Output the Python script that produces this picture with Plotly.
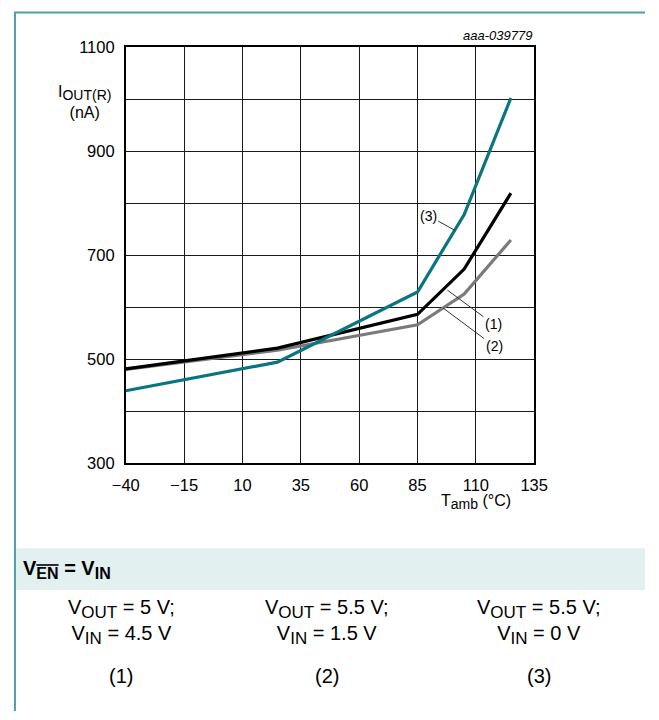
import plotly.graph_objects as go

# Ambient temperature (°C) at which the reverse output current was sampled
temp_c = [-40, 25, 85, 105, 125]

# Reverse output current I_OUT(R) in nA for each condition
iout_1 = [481, 521, 586, 673, 819]   # VOUT = 5 V; VIN = 4.5 V
iout_2 = [480, 517, 566, 625, 729]   # VOUT = 5.5 V; VIN = 1.5 V
iout_3 = [439, 494, 629, 778, 1002]  # VOUT = 5.5 V; VIN = 0 V

y_ticks = [300, 400, 500, 600, 700, 800, 900, 1000, 1100]
y_tick_text = ["300", "", "500", "", "700", "", "900", "", "1100"]
x_ticks = [-40, -15, 10, 35, 60, 85, 110, 135]

TEAL = "#087580"
GREY = "#7a7a7a"
FONT = "Liberation Sans, Arial, sans-serif"

fig = go.Figure()
for ys, col in [(iout_2, GREY), (iout_1, "#000000"), (iout_3, TEAL)]:
    fig.add_trace(go.Scatter(x=temp_c, y=ys, mode="lines",
                             line=dict(color=col, width=3.2), showlegend=False,
                             hoverinfo="skip"))

W, H = 659, 720
x0, x1 = 116.7, 543.3   # plot area in pixels
y0, y1 = 39.0, 465.7

axis_common = dict(showline=True, linecolor="#000000", linewidth=1.6, mirror=True,
                   showgrid=True, gridcolor="#1a1a1a", gridwidth=1,
                   zeroline=False, ticks="",
                   tickfont=dict(family=FONT, size=16.5, color="#000000"))

fig.update_layout(
    width=W, height=H,
    margin=dict(l=0, r=0, t=0, b=0),
    paper_bgcolor="#ffffff", plot_bgcolor="#ffffff",
    xaxis=dict(domain=[x0 / W, x1 / W], range=[-40, 135],
               tickvals=x_ticks, ticklabelstandoff=6, **axis_common),
    yaxis=dict(domain=[1 - y1 / H, 1 - y0 / H], range=[300, 1100],
               tickvals=y_ticks, ticktext=y_tick_text, ticklabelstandoff=6,
               **axis_common),
)


def px_x(p):
    return p / W


def px_y(p):
    return 1 - p / H


def sub(txt, size):
    return f"<sub><span style='font-size:{size}px'>{txt}</span></sub>"


annotations = [
    # figure code
    dict(x=px_x(x1), y=px_y(27), xref="paper", yref="paper", xanchor="right",
         yanchor="middle", text="<i>aaa-039779</i>", showarrow=False,
         font=dict(family=FONT, size=13, color="#000000")),
    # y axis title
    dict(x=px_x(74), y=px_y(95), xref="paper", yref="paper", xanchor="center",
         yanchor="middle", text="I" + sub("OUT(R)", 14) + "<br>(nA)",
         showarrow=False, align="center",
         font=dict(family=FONT, size=16, color="#000000")),
    # x axis title
    dict(x=px_x(483), y=px_y(506), xref="paper", yref="paper", xanchor="center",
         yanchor="middle", text="T" + sub("amb", 14) + " (°C)", showarrow=False,
         font=dict(family=FONT, size=16, color="#000000")),
]

# curve labels with leader lines
for label, tx, ty, ax, ay in [("(3)", 101.2, 747.0, -27, -15),
                              ("(1)", 97.8, 632.6, 46, 34),
                              ("(2)", 96.0, 598.0, 51, 38)]:
    annotations.append(dict(x=tx, y=ty, xref="x", yref="y", text=label,
                            showarrow=True, arrowhead=0, arrowwidth=1,
                            arrowcolor="#333333", ax=ax, ay=ay, standoff=0,
                            font=dict(family=FONT, size=14, color="#000000")))

# condition header and table beneath the chart
annotations.append(dict(
    x=px_x(7), y=px_y(575), xref="paper", yref="paper",
    xanchor="left", yanchor="middle", showarrow=False,
    text="<b>V<sub><span style='font-size:16px;text-decoration:overline'>EN</span></sub>"
         " = V" + sub("IN", 16) + "</b>",
    font=dict(family=FONT, size=20, color="#000000")))

conditions = [("5", "4.5", "(1)"), ("5.5", "1.5", "(2)"), ("5.5", "0", "(3)")]
col_x = [112, 327, 548]
for (vout, vin, tag), cx in zip(conditions, col_x):
    annotations.append(dict(
        x=px_x(cx), y=px_y(629), xref="paper", yref="paper",
        xanchor="center", yanchor="middle", showarrow=False, align="center",
        text=f"V{sub('OUT', 17)} = {vout} V;<br>V{sub('IN', 17)} = {vin} V",
        font=dict(family=FONT, size=20, color="#000000")))
    annotations.append(dict(
        x=px_x(cx), y=px_y(684), xref="paper", yref="paper",
        xanchor="center", yanchor="middle", showarrow=False,
        text=tag, font=dict(family=FONT, size=20, color="#000000")))

fig.update_layout(annotations=annotations)

fig.update_layout(shapes=[
    dict(type="rect", xref="paper", yref="paper", x0=0, x1=1,
         y0=px_y(596), y1=px_y(553), fillcolor="#e3f0f0", line=dict(width=0),
         layer="below"),
    dict(type="line", xref="paper", yref="paper", x0=0, x1=1,
         y0=px_y(3.5), y1=px_y(3.5), line=dict(color="#4f9ea8", width=2)),
    dict(type="line", xref="paper", yref="paper", x0=px_x(1), x1=px_x(1),
         y0=0, y1=px_y(3.5), line=dict(color="#4f9ea8", width=2)),
])

# page without body margin so the figure fills the window exactly
fig.write_html(
    "out.html",
    post_script="document.body.style.margin='0';document.body.style.overflow='hidden';",
)
